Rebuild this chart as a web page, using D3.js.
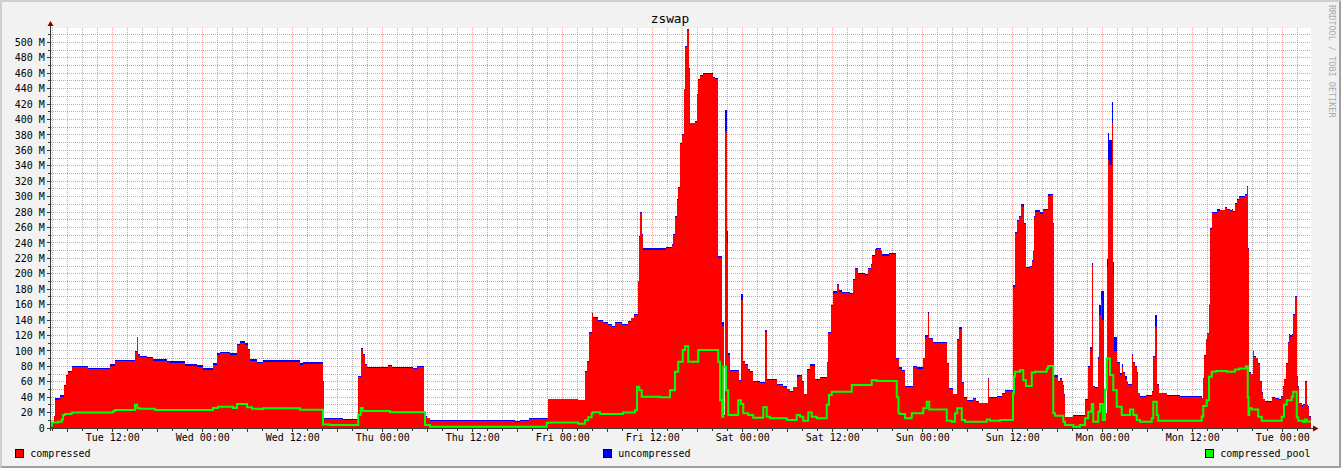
<!DOCTYPE html>
<html><head><meta charset="utf-8">
<script src="https://cdn.jsdelivr.net/npm/d3@7"></script>
<style>
body{margin:0;background:#f2f2f2}
svg{display:block}
text{font-family:"DejaVu Sans Mono","Liberation Mono",monospace}
</style>
</head><body>
<svg id="chart" width="1341" height="468"></svg>
<script>
// ---------------- data ----------------
const chartTitle = "zswap";
const watermark = "RRDTOOL / TOBI OETIKER";
const seriesNames = ["compressed", "uncompressed", "compressed_pool"];
const seriesColors = ["#ff0000", "#0000ff", "#00ff00"];
const yTickValues = [0,20,40,60,80,100,120,140,160,180,200,220,240,260,280,300,320,340,360,380,400,420,440,460,480,500];
const yMax = 518.6;              // M
const startTime = new Date(2024, 0, 2, 3, 46); // a Tuesday, 03:46
const spanMinutes = 10080;       // one week

// minutes after start at which compressed / uncompressed change (step data), rows of 10
const compMinutes = [
  0,26,32,72,106,118,138,168,296,472,
  512,672,686,696,712,768,816,928,952,1072,
  1168,1216,1296,1328,1352,1432,1488,1512,1552,1576,
  1592,1648,1696,1992,2016,2178,2186,2334,2458,2478,
  2494,2510,2528,2696,2726,2896,2928,2986,3006,3032,
  3712,3752,3824,3976,4216,4272,4286,4302,4326,4338,
  4376,4416,4456,4488,4512,4566,4618,4638,4664,4698,
  4706,4714,4728,4738,4920,4966,4978,4992,5006,5018,
  5032,5048,5064,5074,5088,5102,5112,5152,5166,5178,
  5192,5214,5298,5312,5338,5368,5380,5392,5404,5414,
  5432,5504,5516,5538,5552,5578,5592,5618,5632,5672,
  5712,5730,5744,5806,5856,5886,5912,5938,5970,5986,
  6006,6024,6050,6072,6112,6152,6206,6218,6238,6258,
  6286,6302,6326,6392,6418,6432,6458,6512,6538,6562,
  6570,6592,6602,6638,6650,6704,6758,6784,6810,6832,
  6898,6926,6978,6992,7014,7026,7058,7170,7186,7218,
  7246,7264,7286,7304,7326,7378,7400,7426,7498,7506,
  7566,7606,7632,7694,7698,7712,7730,7746,7758,7774,
  7786,7800,7832,7846,7854,7864,7872,7912,7938,7978,
  7992,8014,8024,8058,8072,8086,8094,8104,8112,8178,
  8272,8298,8312,8326,8338,8352,8378,8386,8396,8408,
  8424,8446,8454,8466,8486,8498,8504,8530,8552,8566,
  8578,8592,8610,8618,8646,8658,8672,8686,8698,8712,
  8760,8806,8818,8832,8850,8866,8926,9032,9058,9206,
  9218,9226,9238,9250,9262,9272,9288,9330,9352,9392,
  9406,9432,9446,9458,9472,9490,9506,9552,9566,9576,
  9586,9598,9614,9624,9640,9658,9672,9688,9698,9712,
  9766,9792,9824,9840,9854,9864,9880,9894,9906,9914,
  9928,9938,9952,9966,9976,9986,10006,10018,10032,10046,
  10054,10066
];
const compressed = [
  6,15,36,40,54,67,72,79,76,81,
  86.4,98,117.6,95,91.7,90.5,87,85.5,84,81,
  78.8,75,82,94.7,96.8,95,107,110.7,108,101,
  87,84,86,82,83,60,11.7,10.4,66,103,
  95,82,78,80.5,78,76.5,79.5,14.7,12.5,9.5,
  7.8,9.5,11.7,37,36,73,86,123,147.5,142,
  139,136.6,133.6,130.6,135.8,133.6,138,142,146.6,190,
  248,279,250,231,233,237,250,274,296,311,
  368,380,439,494,516,466,395,397,432,451,
  456.5,459,454,452.6,220,132,15,385,240,94.6,
  74,61,166,86,82,75,73,60,60,58.8,
  125,62.6,62,55.8,53,50,47,52.8,66.6,68,
  60,43.7,75,80.4,62,64.4,84,123,158,175.5,
  185.5,176.8,174.7,173.8,192,205.8,199.7,198.4,206,211,
  223,231,232,228.7,223.5,225.7,90,77,74,53.6,
  79.5,77,90.4,118,148,115,110,83,50,43.6,
  114,129,58,39,35,37,34,32,64,39,
  40.6,44,48,120,183,252.5,269,273,288,287,
  264.6,207,209,217,228.7,274,280.6,277.6,282,301,
  302,264.6,66.6,60,63.8,60,54.5,42.8,13.8,15.6,
  36,79.5,103,211,53.6,52,90,147,166,140,
  19,209,347,341,395,200,100,84,68.7,79.5,
  71,63.8,58.8,55.8,93.4,84,79.5,71,45,40.6,
  42,47,92.5,131,55.8,45,42,40.6,39.8,38.5,
  64.4,93.4,115,122.8,158,257.7,279,281.8,282,285,
  282,281.8,282,280,290,295.7,299,302,313,232,
  71,69.6,99,92.5,90.4,83,60,45.8,37,33.7,
  38.5,37,36,40.6,53.6,62,83,110,120.6,118,
  120.6,146.6,170,66.6,53.6,32,27.7,30,60,28,
  27,14.6
];
const uncompressed = [
  0.5,1,2.5,2.5,2,2,2,1.5,2,2,
  2,1.5,1,1.5,2,2,2,2,2.5,2.5,
  2.5,2.5,2,3,2,2,2,2,2,2,
  2,2,2,2,2.5,1.5,1.5,1.5,2,1,
  1,1,1.5,1,1.5,1,1.5,0.5,1,1.5,
  1.5,1,1.5,1.2,0.5,1,1,1.5,1.5,2,
  1,1,1,1,1,1,1,1,1,1,
  1.5,1,1,3,2,1,1,1,1,1,
  1,1,1,1,1,1,1,1,1,1,
  1,1.5,1,1,3,6,2,27,15,2,
  1.5,1,8,1.5,1,1,1.5,1,1.5,1,
  2,1.5,2,1,1,1,1.5,1,2,1,
  1,1,1,2,2,2,1,2,2,2,
  1.5,1.5,1.5,1,1,1.7,1.5,1.5,1.5,1,
  1.5,1,1.7,1,1.5,1.5,1,2,1,1.5,
  1.5,2,1,2,3,1.5,1.2,1,1.5,1,
  2,2,1,1,1.5,1.5,1,1,1,1.5,
  1.5,1,1.5,2,2,2,1,2,2,4,
  1,1.5,1,1,1,1,1.5,2,2,2,
  2,1,1.5,1,1,1,1,1,1,1.3,
  1,1,2,3,1,1.5,2,12,11,38,
  1,10,35,33,28,15,17.6,2,3,3,
  1,4,1,1,2,1,1,1,1,1,
  1,1,1,15.6,1.5,1,1,1,1.2,1,
  1,1,1,1,1,1,1.6,2.2,1,2,
  1.5,1,1.5,1,1.5,1,1.7,2,0.5,1,
  1,1,1,1,1,1,1.3,1.3,1,1.3,
  1.3,1.3,1,1,1,1,1,1,1.3,3,
  1.3,1,1,1,1,1,1.5,1,1,1.8,
  1,0.5
];

// minutes after start at which compressed_pool changes, rows of 10
const poolMinutes = [
  0,8,56,86,96,112,166,498,512,672,
  690,712,832,1296,1336,1456,1488,1568,1608,1672,
  1696,1992,2176,2232,2458,2478,2494,2712,2992,3032,
  3966,3978,4218,4272,4298,4326,4336,4392,4576,4672,
  4688,4706,4726,4872,4952,4992,5018,5054,5072,5098,
  5178,5338,5352,5370,5378,5400,5418,5498,5520,5538,
  5578,5618,5698,5726,5752,5886,5966,5992,6018,6058,
  6086,6126,6206,6224,6246,6406,6566,6606,6766,6780,
  6792,6832,6886,6978,7006,7026,7166,7206,7232,7250,
  7286,7312,7486,7512,7592,7696,7704,7712,7752,7778,
  7800,7846,7872,7966,7978,8018,8032,8098,8112,8178,
  8232,8272,8298,8326,8338,8378,8392,8414,8432,8446,
  8472,8498,8526,8566,8632,8658,8686,8712,8806,8818,
  8846,8858,9206,9218,9246,9264,9286,9320,9406,9472,
  9506,9560,9574,9580,9586,9606,9658,9686,9846,9864,
  9886,9926,9938,9966,9978,10018,10032,10046
];
const compressedPool = [
  3,7,8,11,17,18,20,22,23.3,30,
  25.5,25,23.3,26,27.7,26,31,27,25,24.5,
  25.5,23.8,4.5,3.9,17,26,22,20.3,3.9,1.7,
  6.6,7,5.6,10,14,19,20.3,18,20,23,
  53.6,49,40.6,39.8,49,73,86,101,106,86,
  101,86,36,14.6,79.5,49,17,36,31,19,
  17,13.4,26.8,14.6,12.5,10.4,17,14.6,9.5,20,
  14.6,12.5,30,42.8,47,55.8,62,61,40,19,
  18,12.5,19,25.5,34,24,9.5,8,19,25.5,
  10.4,8,11,9.5,10.4,45,66.6,73,75,62,
  54.5,72,73,77,80.4,19,16,8,3.9,1.7,
  3.9,12.5,21,31,8,21,31,10.4,50,90,
  68.7,49,27.7,17,24,17,10.4,8,12.5,34,
  17,9.5,15,28.5,36,66.6,73,74,73,76,
  77,80,40,17,25.5,24,14.6,9.5,14.6,30,
  36,40.6,47,13.8,9.5,7.8,11,8.5
];

// ---------------- drawing ----------------
const W = 1341, H = 468;
const L = 51, R = 1311, T = 28, B = 428;
const svg = d3.select("#chart");
const minute = m => new Date(startTime.getTime() + m * 60000);
const endTime = minute(spanMinutes);

const x = d3.scaleTime().domain([startTime, endTime]).range([L, R]);
const y = d3.scaleLinear().domain([0, yMax]).range([B, T]);

// background + 3D frame
svg.append("rect").attr("width", W).attr("height", H).attr("fill", "#f2f2f2");
svg.append("polygon").attr("points", `0,0 ${W},0 ${W-2},2 2,2 2,${H-2} 0,${H}`).attr("fill", "#cfcfcf");
svg.append("polygon").attr("points", `${W},0 ${W},${H} 0,${H} 2,${H-2} ${W-2},${H-2} ${W-2},2`).attr("fill", "#9e9e9e");

// canvas
svg.append("rect").attr("x", L).attr("y", T).attr("width", R - L).attr("height", B - T).attr("fill", "#ffffff");

const px = v => Math.floor(v) + 0.5;
const gGrid = svg.append("g").attr("stroke-dasharray", "1,1").attr("stroke-width", 1).attr("fill", "none");

const minorTimes = x.ticks(d3.timeHour.every(2)).filter(d => d.getHours() % 6 !== 0);
const majorTimes = x.ticks(d3.timeHour.every(6));
const minorY = d3.range(10, yMax, 20);
minorTimes.forEach(d => {
  gGrid.append("line").attr("x1", px(x(d))).attr("x2", px(x(d))).attr("y1", T).attr("y2", B)
    .attr("stroke", "rgba(143,143,143,0.7)");
});
minorY.forEach(v => {
  gGrid.append("line").attr("x1", L).attr("x2", R).attr("y1", px(y(v))).attr("y2", px(y(v)))
    .attr("stroke", "rgba(143,143,143,0.7)");
});
majorTimes.forEach(d => {
  gGrid.append("line").attr("x1", px(x(d))).attr("x2", px(x(d))).attr("y1", T).attr("y2", B)
    .attr("stroke", "rgba(222,79,79,0.55)");
});
yTickValues.filter(v => v > 0).forEach(v => {
  gGrid.append("line").attr("x1", L).attr("x2", R).attr("y1", px(y(v))).attr("y2", px(y(v)))
    .attr("stroke", "rgba(222,79,79,0.55)");
});

// data
const compData = compMinutes.map((m, i) => ({t: minute(m), c: compressed[i], u: uncompressed[i]}));
compData.push({t: endTime, c: compressed[compressed.length - 1], u: uncompressed[uncompressed.length - 1]});
const poolData = poolMinutes.map((m, i) => ({t: minute(m), v: compressedPool[i]}));
poolData.push({t: endTime, v: compressedPool[compressedPool.length - 1]});

svg.append("clipPath").attr("id", "plotclip").append("rect")
  .attr("x", L).attr("y", T).attr("width", R - L).attr("height", B - T);
const gData = svg.append("g").attr("clip-path", "url(#plotclip)");

gData.append("path").datum(compData)
  .attr("fill", seriesColors[0]).attr("shape-rendering", "crispEdges")
  .attr("d", d3.area().curve(d3.curveStepAfter).x(d => x(d.t)).y0(y(0)).y1(d => y(d.c)));
gData.append("path").datum(compData)
  .attr("fill", seriesColors[1]).attr("shape-rendering", "crispEdges")
  .attr("d", d3.area().curve(d3.curveStepAfter).x(d => x(d.t)).y0(d => y(d.c)).y1(d => y(d.c + d.u)));
gData.append("path").datum(poolData)
  .attr("fill", "none").attr("stroke", seriesColors[2]).attr("stroke-width", 2)
  .attr("d", d3.line().curve(d3.curveStepAfter).x(d => x(d.t)).y(d => y(d.v)));

// axes
const axisColor = "#3a3a3a";
const gAxis = svg.append("g").attr("stroke", axisColor).attr("stroke-width", 1).attr("shape-rendering", "crispEdges");
gAxis.append("line").attr("x1", 50.5).attr("x2", 50.5).attr("y1", 431).attr("y2", 24);
gAxis.append("line").attr("x1", 47).attr("x2", 1314).attr("y1", 428.5).attr("y2", 428.5);
yTickValues.forEach(v => {
  gAxis.append("line").attr("x1", 47).attr("x2", 50).attr("y1", px(y(v))).attr("y2", px(y(v)));
});
minorY.forEach(v => {
  gAxis.append("line").attr("x1", 48).attr("x2", 50).attr("y1", px(y(v))).attr("y2", px(y(v)));
});
majorTimes.forEach(d => {
  gAxis.append("line").attr("x1", px(x(d))).attr("x2", px(x(d))).attr("y1", 429).attr("y2", 432);
});
minorTimes.forEach(d => {
  gAxis.append("line").attr("x1", px(x(d))).attr("x2", px(x(d))).attr("y1", 429).attr("y2", 431);
});
svg.append("polygon").attr("points", "47.5,26 53.5,26 50.5,21").attr("fill", "#800000");
svg.append("polygon").attr("points", "1313,425.5 1313,431.5 1318.5,428.5").attr("fill", "#800000");

// y labels
svg.append("g").selectAll("text").data(yTickValues).join("text")
  .attr("x", 44.8).attr("y", v => y(v) + 3.7)
  .attr("text-anchor", "end").attr("font-size", "10px").attr("fill", "#000")
  .text(v => v === 0 ? "0" : `${v} M`);

// x labels
const fmt = d3.timeFormat("%a %H:%M");
svg.append("g").selectAll("text").data(x.ticks(d3.timeHour.every(12))).join("text")
  .attr("x", d => x(d)).attr("y", 441.3)
  .attr("text-anchor", "middle").attr("font-size", "10px").attr("fill", "#000")
  .text(d => fmt(d));

// title
svg.append("text").attr("x", 670).attr("y", 23).attr("text-anchor", "middle")
  .attr("font-size", "12.8px").attr("fill", "#000").text(chartTitle);

// watermark
svg.append("text").attr("transform", "translate(1328.5,5) rotate(90)")
  .attr("font-size", "8.5px").attr("fill", "#aaaaaa").text(watermark);

// legend
const legendX = [15.5, 603.5, 1205.5];
const gLeg = svg.append("g");
seriesNames.forEach((name, i) => {
  gLeg.append("rect").attr("x", legendX[i]).attr("y", 449.5).attr("width", 8).attr("height", 8)
    .attr("fill", seriesColors[i]).attr("stroke", "#000").attr("stroke-width", 1);
  gLeg.append("text").attr("x", legendX[i] + 14.8).attr("y", 456.8)
    .attr("font-size", "10px").attr("fill", "#000").text(name);
});
</script>
</body></html>
